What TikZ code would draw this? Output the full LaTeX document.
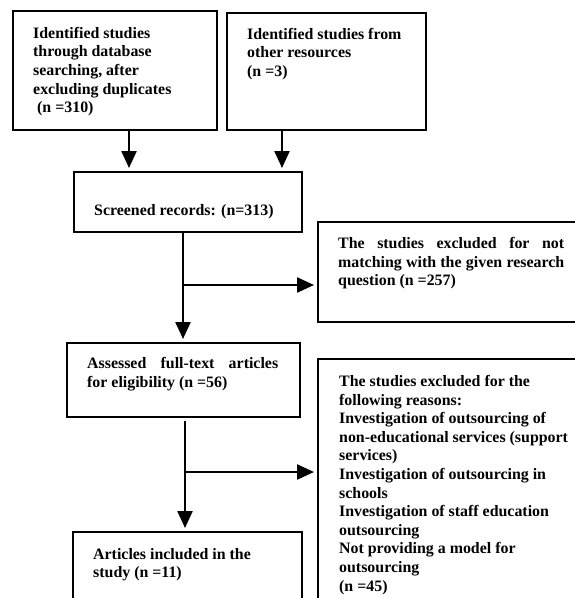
\documentclass[tikz,border=0pt]{standalone}
\usepackage{fontspec}
\setmainfont{Liberation Serif}
\usetikzlibrary{arrows.meta, positioning}

\begin{document}
\begin{tikzpicture}[x=1pt, y=-1pt,
        box/.style={draw, line width=1.6pt, inner sep=0pt, anchor=north west},
        txt/.style={inner sep=0pt, anchor=north west, align=left,
                font=\bfseries\fontsize{15.9}{18.6}\selectfont},
        arr/.style={line width=2.4pt, shorten >=3pt, -{Triangle[width=15pt,length=17pt]}},
        link/.style={line width=2.4pt}]
        \useasboundingbox (0,0) rectangle (574,598);
        % boxes
        \node [box, line width=2pt, minimum width=204pt, minimum height=119pt] (idDb) at (12,10) {};
        \node [box, line width=2pt, minimum width=199pt, minimum height=117pt] (idOth) at (226,12) {};
        \node [box, minimum width=228pt, minimum height=60pt] (scr) at (73,171) {};
        \node [box, minimum width=262pt, minimum height=100pt] (exA) at (317,221) {};
        \node [box, minimum width=233pt, minimum height=74pt] (full) at (66,342) {};
        \node [box, minimum width=262pt, minimum height=250pt] (exB) at (317,358) {};
        \node [box, minimum width=229pt, minimum height=80pt] (incl) at (72,531) {};
        % texts
        \node [txt] (tDb) at (33,27) {Identified studies\\through database\\searching, after\\excluding duplicates\\\hspace*{4pt}(n =310)};
        \node [txt] (tOth) at (247,28) {Identified studies from\\other resources\\(n =3)};
        \node [txt] (tScr) at (94,204) {Screened records: (n=313)};
        \node [txt, text width=226pt, align=justify] (tExA) at (338,237) {The studies excluded for not\linebreak matching with the given research\linebreak question (n =257)};
        \node [txt, text width=191pt, align=justify] (tFull) at (87,357) {Assessed full-text articles\linebreak for eligibility (n =56)};
        \node [txt] (tExB) at (339,375) {The studies excluded for the\\following reasons:\\Investigation of outsourcing of\\non-educational services (support\\services)\\Investigation of outsourcing in\\schools\\Investigation of staff education\\outsourcing\\Not providing a model for\\outsourcing\\(n =45)};
        \node [txt] (tIncl) at (93,548) {Articles included in the\\study (n =11)};
        % connectors
        \draw [arr] ([xshift=14pt]idDb.south) -- ([xshift=14pt]idDb.south |- scr.north);
        \draw [arr] ([xshift=-44.5pt]idOth.south) -- ([xshift=-44.5pt]idOth.south |- scr.north);
        \coordinate (j1) at (183,285);
        \draw [link] (scr.south -| j1) -- (j1);
        \draw [arr] (j1) -- (full.north -| j1);
        \draw [arr] (j1) -- (j1 -| exA.west);
        \coordinate (j2) at (185,472);
        \draw [link] ([yshift=-3pt]full.south -| j2) -- (j2);
        \draw [arr] (j2) -- (incl.north -| j2);
        \draw [arr] (j2) -- (j2 -| exB.west);
\end{tikzpicture}
\end{document}
